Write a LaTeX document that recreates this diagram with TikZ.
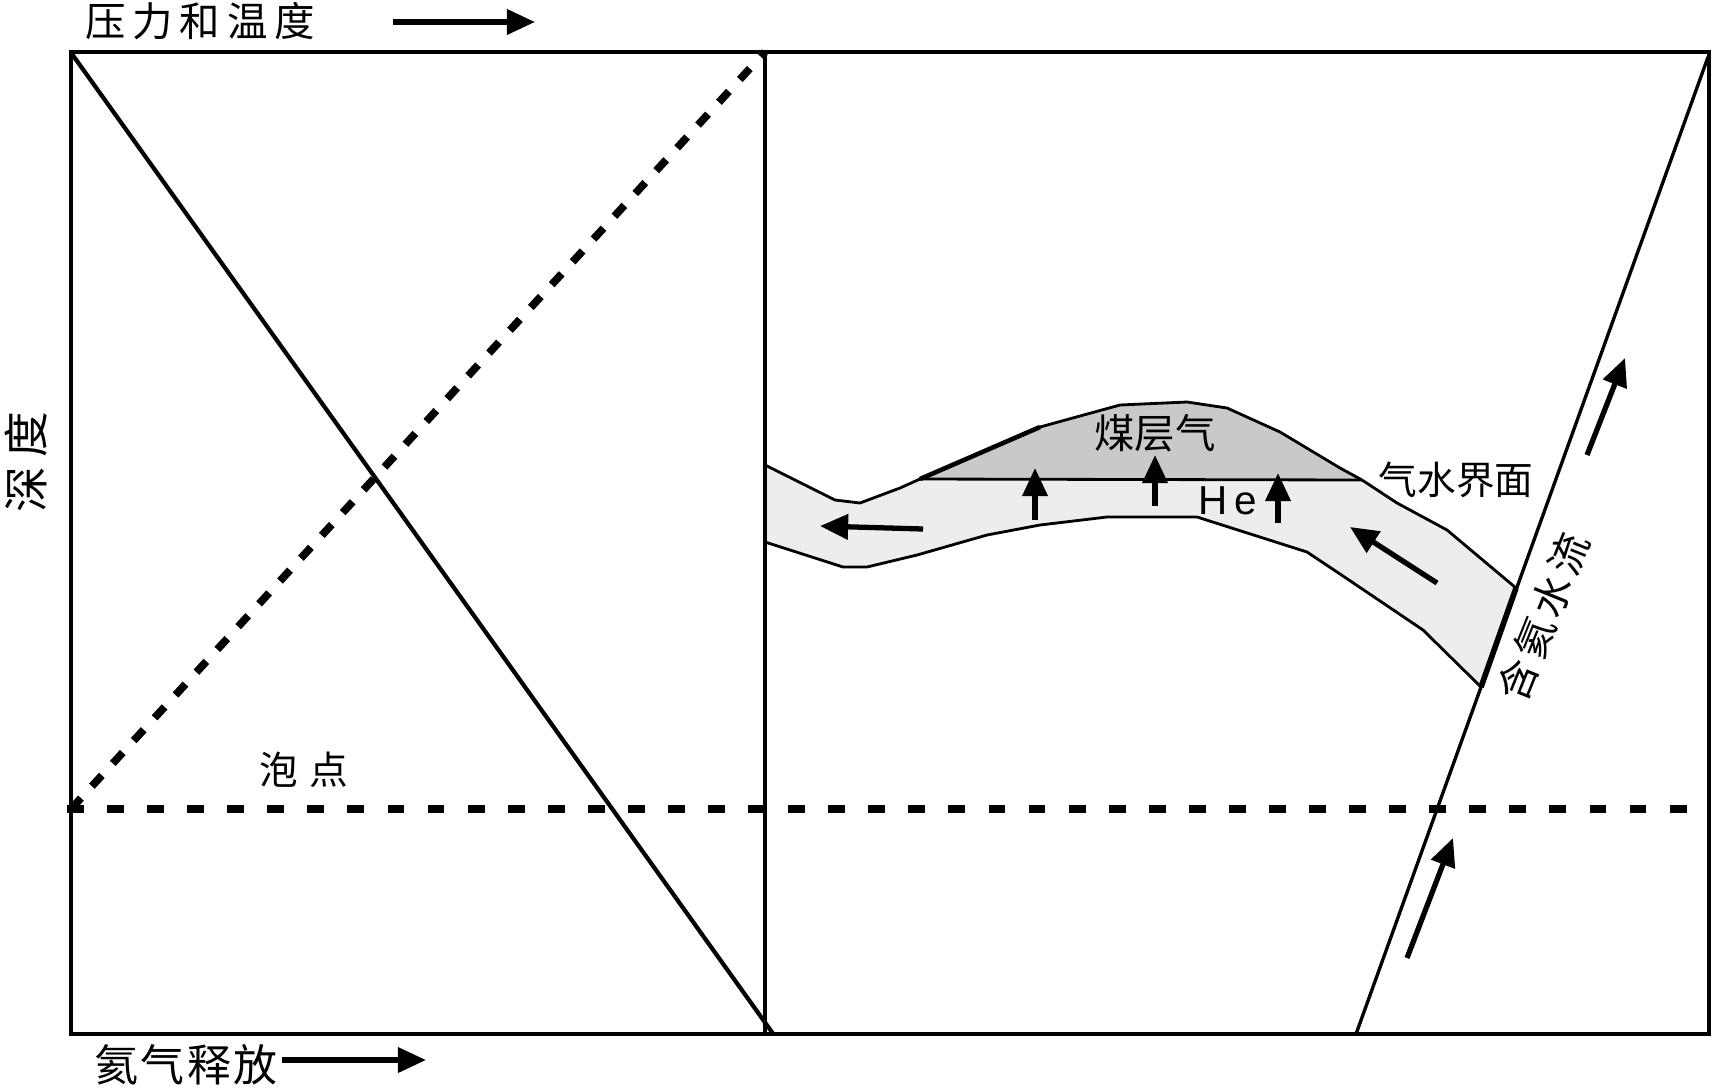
\documentclass[tikz,border=0pt]{standalone}
\usepackage{fontspec}
\setmainfont{Liberation Sans}
\newfontfamily\cjk{Noto Sans CJK SC}
\usetikzlibrary{arrows.meta}
\definecolor{seamgray}{gray}{0.93}
\definecolor{gasgray}{gray}{0.79}
\tikzset{
	lbl/.style={font=\cjk\fontsize{11.5pt}{12pt}\selectfont, inner sep=0pt},
	flow/.style={line width=1.5pt, -{Triangle[length=8pt,width=7pt]}},
	seamline/.style={line width=.8pt, line join=round},
}

\begin{document}
\begin{tikzpicture}
		\useasboundingbox (0,0) rectangle (17.13,-10.91);
		\coordinate (tl) at (0.71,-0.52);
		\coordinate (tr) at (17.09,-0.52);
		\coordinate (bl) at (0.71,-10.34);
		\coordinate (br) at (17.09,-10.34);
		\coordinate (mt) at (7.65,-0.52);
		\coordinate (mb) at (7.65,-10.34);
		\coordinate (bub) at (0.71,-8.09);
		\coordinate (bubr) at (17.09,-8.09);
		% fault and the seam ends on it
		\coordinate (ftop) at (17.08,-0.57);
		\coordinate (fbot) at (13.56,-10.34);
		\coordinate (fa) at (15.16,-5.88);
		\coordinate (fb) at (14.81,-6.87);
		\coordinate (gl) at (9.20,-4.79);
		\coordinate (gr) at (13.62,-4.80);
		\def\captop{-- (10.40,-4.27) -- (11.20,-4.05) -- (11.87,-4.02) -- (12.27,-4.08) -- (12.80,-4.32) -- (13.40,-4.68) -- (gr)}
		\def\seamleft{(7.65,-4.65) -- (8.35,-5.00) -- (8.60,-5.03) -- (9.00,-4.88) -- (gl)}
		\def\seamright{(gr) -- (13.97,-5.03) -- (14.47,-5.30) -- (fa)}
		\def\seambot{(fb) -- (14.23,-6.30) -- (13.40,-5.74) -- (13.07,-5.52) -- (11.97,-5.17) -- (11.07,-5.17) -- (10.40,-5.25) -- (9.87,-5.35) -- (9.17,-5.55) -- (8.67,-5.67) -- (8.43,-5.67) -- (7.65,-5.42)}
		
		\fill[seamgray] \seamleft \captop -- (13.97,-5.03) -- (14.47,-5.30) -- (fa) -- \seambot -- cycle;
		\fill[gasgray] (gl) \captop -- cycle;
		\draw[seamline] \seamleft \captop;
		\draw[seamline] \seamright;
		\draw[seamline] \seambot;
		\draw[seamline] (gl) -- (gr);
		\draw[line width=1.3pt] (gl) -- (10.40,-4.27);
		
		% left panel
		\draw[line width=1.2pt] (0.72,-0.54) -- (7.74,-10.35);
		\draw[line width=2.2pt, dash pattern=on 4.2pt off 4.6pt] (bub) -- (mt);
		\draw[line width=2.3pt, dash pattern=on 4.8pt off 6.6pt] (0.67,-8.09) -- (bubr);
		\draw[line width=1.2pt] (tl) rectangle (br);
		\draw[line width=1.2pt] (mt) -- (mb);
		
		% fault
		\draw[line width=.95pt] (ftop) -- (fbot);
		\draw[line width=1.6pt] (fa) -- (fb);
		
		% flow arrows
		\draw[flow] (9.23,-5.29) -- (8.20,-5.26);
		\draw[flow] (10.35,-5.20) -- (10.35,-4.68);
		\draw[flow] (11.55,-5.06) -- (11.55,-4.55);
		\draw[flow] (12.78,-5.23) -- (12.78,-4.73);
		\draw[flow] (14.37,-5.83) -- (13.50,-5.27);
		\draw[flow] (15.87,-4.55) -- (16.25,-3.58);
		\draw[flow] (14.07,-9.58) -- (14.53,-8.38);
		\draw[flow] (3.93,-0.22) -- (5.35,-0.22);
		\draw[flow] (2.82,-10.60) -- (4.26,-10.60);
		
		% labels
		\node[lbl] (pt) at (2.00,-0.21) {\addfontfeature{LetterSpace=17}压力和温度};
		\node[lbl, font=\cjk\fontsize{12.5pt}{13pt}\selectfont] (he) at (1.86,-10.65) {\addfontfeature{LetterSpace=5}氦气释放};
		\node[lbl, font=\cjk\fontsize{13pt}{13pt}\selectfont, rotate=90] (dep) at (0.26,-4.62) {\addfontfeature{LetterSpace=20}深度};
		\node[lbl, font=\cjk\fontsize{11pt}{12pt}\selectfont] (bp) at (3.04,-7.70) {\addfontfeature{LetterSpace=28}泡点};
		\node[lbl] (cbm) at (11.55,-4.33) {煤层气};
		\node[inner sep=0pt, font=\fontsize{11.5pt}{12pt}\selectfont] (hel) at (12.28,-5.01) {H\hspace{2pt}e};
		\node[lbl, font=\cjk\fontsize{11pt}{12pt}\selectfont] (gwc) at (14.56,-4.80) {气水界面};
		\node[lbl, rotate=68] (hw) at (15.43,-6.17) {\addfontfeature{LetterSpace=12}含氦水流};
\end{tikzpicture}
\end{document}
